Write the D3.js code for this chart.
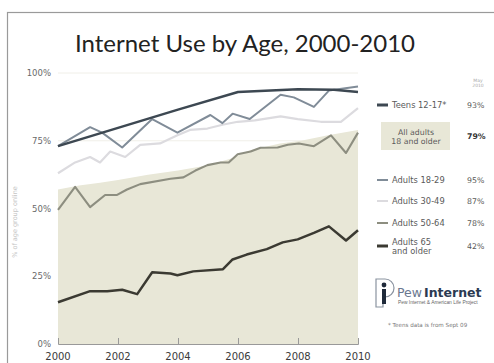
<!DOCTYPE html>
<html><head><meta charset="utf-8">
<script src="https://cdn.jsdelivr.net/npm/d3@7"></script>
<style>html,body{margin:0;padding:0;background:#fff;} svg{display:block;}</style>
</head><body>
<svg id="chart" width="494" height="363"></svg>
<script>
// Axis ticks
const xTicks = [2000, 2002, 2004, 2006, 2008, 2010];
const yTicks = [0, 25, 50, 75, 100];

// Share of each age group online, [year, percent]
const allAdults = [[2000,57],[2000.7,58.5],[2001.4,59.5],[2002,60.5],[2003,62.5],[2004,64],[2005,66],[2005.8,68.5],[2006.4,71.5],[2007.4,74],[2008.1,75],[2009,77],[2010,79]];
const teens = [[2000,73],[2004,86.5],[2006,93],[2008,94],[2009.2,93.8],[2010,93]];
const adults1829 = [[2000,73],[2001.07,80],[2001.47,78],[2002.14,72.5],[2003.14,83],[2003.98,78],[2005.08,84.5],[2005.48,81.5],[2005.82,85],[2006.39,83],[2007.42,92],[2007.86,91],[2008.53,87.5],[2009.03,93.5],[2010,95]];
const adults3049 = [[2000,63],[2000.57,67],[2001.07,69],[2001.4,67],[2001.74,71],[2002.24,69],[2002.74,73.5],[2003.4,74],[2003.98,77],[2004.4,79],[2004.98,79.5],[2005.52,81],[2005.99,82],[2006.56,82.5],[2007.42,84],[2007.99,83],[2008.76,82],[2009.43,82],[2010,87]];
const adults5064 = [[2000,49.5],[2000.57,58],[2001.07,50.5],[2001.57,55],[2001.97,55],[2002.3,57],[2002.74,59],[2003.75,61],[2004.18,61.5],[2004.58,64],[2004.98,66],[2005.42,67],[2005.69,67],[2005.99,70],[2006.42,71],[2006.75,72.4],[2007.32,72.5],[2007.66,73.5],[2008.03,74],[2008.53,73],[2009.1,77],[2009.6,70.5],[2010,78]];
const adults65 = [[2000,15.4],[2001.07,19.5],[2001.64,19.5],[2002.14,20],[2002.64,18.4],[2003.14,26.5],[2003.75,26],[2003.98,25.4],[2004.51,26.8],[2005.5,27.6],[2005.82,31.2],[2006.29,33],[2006.96,35],[2007.49,37.5],[2007.99,38.6],[2008.53,41],[2009.03,43.4],[2009.6,38.2],[2010,42]];

// Legend
const legendLabels = [["Teens 12-17*"], ["All adults", "18 and older"], ["Adults 18-29"], ["Adults 30-49"], ["Adults 50-64"], ["Adults 65", "and older"]];
const legendValues = ["93%", "79%", "95%", "87%", "78%", "42%"];

const svg = d3.select("#chart");
const x = d3.scaleLinear().domain([2000, 2010]).range([58, 358]);
const y = d3.scaleLinear().domain([0, 100]).range([344, 73]);

// slide frame
svg.append("rect").attr("x", 7.5).attr("y", 12.5).attr("width", 500).attr("height", 400)
  .attr("fill", "#fff").attr("stroke", "#9a9a9a").attr("stroke-width", 1.2);

svg.append("text").attr("x", 245).attr("y", 52).attr("text-anchor", "middle")
  .attr("font-family", "Lato, 'Open Sans', sans-serif").attr("font-size", 24)
  .attr("fill", "#222").text("Internet Use by Age, 2000-2010");

// gridlines
svg.append("g").selectAll("line").data(yTicks.filter(d => d > 0)).join("line")
  .attr("x1", x(2000)).attr("x2", x(2010)).attr("y1", d => y(d)).attr("y2", d => y(d))
  .attr("stroke", "#f0efe8").attr("stroke-width", 1);

// all-adults area
const area = d3.area().x(d => x(d[0])).y0(y(0)).y1(d => y(d[1]));
svg.append("path").datum(allAdults).attr("d", area).attr("fill", "#e8e7d7");

// y axis labels
svg.append("g").selectAll("text").data(yTicks).join("text")
  .attr("x", 51).attr("y", d => y(d) + 3).attr("text-anchor", "end")
  .attr("font-family", "'DejaVu Sans', sans-serif").attr("font-size", 8.5)
  .attr("fill", "#6a6a6a").text(d => d + "%");

svg.append("text").attr("transform", "translate(17,222) rotate(-90)")
  .attr("text-anchor", "middle").attr("font-family", "'DejaVu Sans', sans-serif")
  .attr("font-size", 6.5).attr("fill", "#c4c4c4").text("% of age group online");

// x axis
const xAxis = d3.axisTop(x).tickValues(xTicks).tickSize(6).tickFormat("");
const gx = svg.append("g").attr("transform", `translate(0,${y(0)})`).call(xAxis);
gx.selectAll("path,line").attr("stroke", "#999");
svg.append("g").selectAll("text").data(xTicks).join("text")
  .attr("x", d => x(d)).attr("y", 360).attr("text-anchor", "middle")
  .attr("font-family", "'DejaVu Sans', sans-serif").attr("font-size", 10)
  .attr("fill", "#3a3a3a").text(d => d);

// series lines
const line = d3.line().x(d => x(d[0])).y(d => y(d[1]));
const series = [
  {data: adults3049, color: "#dcdbdf", w: 2.2},
  {data: adults5064, color: "#8d8e80", w: 2.1},
  {data: adults1829, color: "#808c98", w: 2},
  {data: teens, color: "#3d4852", w: 2.5},
  {data: adults65, color: "#3b3a32", w: 2.5}
];
svg.append("g").selectAll("path").data(series).join("path")
  .attr("d", d => line(d.data)).attr("fill", "none")
  .attr("stroke", d => d.color).attr("stroke-width", d => d.w)
  .attr("stroke-linejoin", "round");

// legend
const lg = svg.append("g").attr("font-family", "'DejaVu Sans', sans-serif").attr("font-size", 8.3).attr("fill", "#5a5a5a");
lg.append("text").attr("x", 478).attr("y", 82).attr("text-anchor", "middle").attr("font-size", 4.5).attr("fill", "#aaa").text("May");
lg.append("text").attr("x", 478).attr("y", 87).attr("text-anchor", "middle").attr("font-size", 4.5).attr("fill", "#aaa").text("2010");

const legendY = [105, 136, 180, 201, 223, 246];
const legendColors = ["#3d4852", null, "#808c98", "#dcdbdf", "#8d8e80", "#3b3a32"];
const legendW = [3, 0, 2, 2, 2, 3];
lg.append("rect").attr("x", 381).attr("y", 122).attr("width", 69).attr("height", 28).attr("fill", "#e8e7d7");
legendLabels.forEach((lines, i) => {
  const cy = legendY[i];
  if (legendColors[i]) {
    lg.append("line").attr("x1", 377).attr("x2", 388).attr("y1", cy).attr("y2", cy)
      .attr("stroke", legendColors[i]).attr("stroke-width", legendW[i]);
  }
  const isBox = i === 1;
  lines.forEach((t, j) => {
    lg.append("text")
      .attr("x", isBox ? 416 : 392)
      .attr("y", cy + 3 + (j - (lines.length - 1) / 2) * 9)
      .attr("font-size", isBox ? 7.8 : null)
      .attr("text-anchor", isBox ? "middle" : "start")
      .text(t);
  });
  lg.append("text").attr("x", 467).attr("y", cy + 3)
    .attr("font-size", 7.8)
    .attr("font-weight", isBox ? "bold" : "normal").attr("fill", isBox ? "#333" : "#5a5a5a")
    .text(legendValues[i]);
});

// Pew Internet logo
const logo = svg.append("g");
logo.append("path").attr("d", "M376,279 h9 a9,9 0 0 1 0,18 h-2 v10 h-7 z")
  .attr("fill", "none").attr("stroke", "#8a93a0").attr("stroke-width", 1.2);
logo.append("circle").attr("cx", 384).attr("cy", 285).attr("r", 2.4).attr("fill", "#1f2a3a");
logo.append("rect").attr("x", 382).attr("y", 289).attr("width", 4).attr("height", 15).attr("fill", "#1f2a3a");
const lt = logo.append("text").attr("x", 397).attr("y", 297).attr("font-family", "'DejaVu Sans', sans-serif").attr("font-size", 12.5);
lt.append("tspan").attr("fill", "#6a7890").text("Pew");
lt.append("tspan").attr("fill", "#2b3a52").attr("font-weight", "bold").attr("dx", 2).text("Internet");
logo.append("text").attr("x", 398).attr("y", 304).attr("font-family", "'Liberation Sans', Arial, sans-serif")
  .attr("font-size", 4.9).attr("fill", "#666").text("Pew Internet & American Life Project");

svg.append("text").attr("x", 388).attr("y", 327).attr("font-family", "'DejaVu Sans', sans-serif")
  .attr("font-size", 5.6).attr("fill", "#777").text("* Teens data is from Sept 09");
</script>
</body></html>
